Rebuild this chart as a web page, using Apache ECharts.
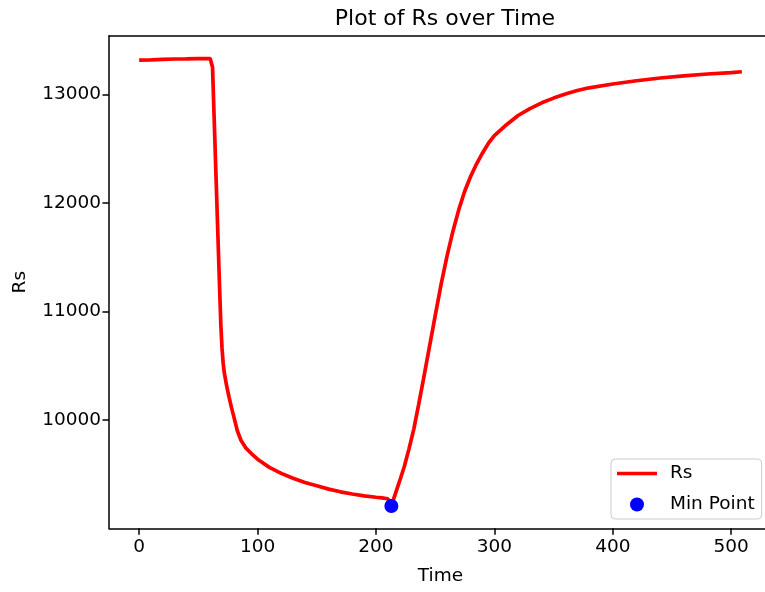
<!DOCTYPE html>
<html>
<head>
<meta charset="utf-8">
<script src="https://cdn.jsdelivr.net/npm/echarts@6/dist/echarts.min.js"></script>
<style>
html,body{margin:0;padding:0;background:#fff;overflow:hidden;}
#chart{width:800px;height:592px;}
</style>
</head>
<body>
<div id="chart"></div>
<script>
var times = [0,10,20,30,40,50,60,61,62,63,64,65,66,67,68,69,70,71,72,74,76,78,80,83,86,90,95,100,110,120,130,140,150,160,170,180,190,200,205,210,213,216,220,224,228,232,236,240,245,250,255,260,265,270,275,280,285,290,295,300,310,320,330,340,350,360,370,380,400,420,440,460,480,500,509];
var rsValues = [13315,13318,13322,13325,13326,13328,13330,13331,13250,12900,12560,12220,11880,11540,11200,10880,10660,10520,10430,10310,10210,10115,10030,9900,9815,9745,9690,9640,9565,9510,9465,9425,9395,9365,9340,9320,9303,9290,9284,9276,9210,9310,9440,9575,9740,9920,10140,10370,10665,10960,11250,11510,11740,11940,12110,12246,12360,12460,12550,12620,12718,12805,12868,12922,12965,13002,13035,13060,13095,13125,13150,13170,13187,13200,13208];
var minTime = [213];
var minValue = [9210];
var xTicks = [0,100,200,300,400,500];
var yTicks = [10000,11000,12000,13000];

var font = 'DejaVu Sans';
var chart = echarts.init(document.getElementById('chart'), null, {renderer:'canvas'});
var lineData = times.map(function(t,i){return [t, rsValues[i]];});
var minData = minTime.map(function(t,i){return [t, minValue[i]];});

chart.setOption({
  animation:false,
  backgroundColor:'#ffffff',
  title:{text:'Plot of Rs over Time', left:440, textAlign:'center', top:3,
    textStyle:{fontFamily:font, fontSize:22, fontWeight:'normal', color:'#000'}},
  grid:{left:109, top:36, width:663, height:492.3, show:false},
  legend:{
    orient:'vertical', left:611, top:459, padding:[5,7,5,6],
    itemWidth:40, itemHeight:14, itemGap:12,
    backgroundColor:'rgba(255,255,255,0.8)', borderColor:'#cccccc', borderWidth:1, borderRadius:4,
    textStyle:{fontFamily:font, fontSize:18.5, color:'#000', padding:[0,0,0,8]},
    data:[{name:'Rs', icon:'path://M0,0 L40,0 L40,3.7 L0,3.7 Z'}, {name:'Min Point', icon:'circle'}]
  },
  xAxis:[{
    type:'value', min:-25.45, max:534.45,
    name:'Time', nameLocation:'middle', nameGap:38,
    nameTextStyle:{fontFamily:font, fontSize:18.5, color:'#000'},
    axisLine:{show:true, onZero:false, lineStyle:{color:'#000', width:1.5}},
    axisTick:{show:true, length:6.5, lineStyle:{color:'#000', width:1.5}, customValues:xTicks},
    axisLabel:{fontFamily:font, fontSize:18.5, color:'#000', margin:9, customValues:xTicks, formatter:function(v){return String(v);}},
    splitLine:{show:false}
  },{
    type:'value', position:'top', min:-25.45, max:534.45,
    axisLine:{show:true, onZero:false, lineStyle:{color:'#000', width:1.5}},
    axisTick:{show:false}, axisLabel:{show:false}, splitLine:{show:false}
  }],
  yAxis:{
    type:'value', min:9004, max:13537,
    name:'Rs', nameLocation:'middle', nameGap:79,
    nameTextStyle:{fontFamily:font, fontSize:18.5, color:'#000'},
    axisLine:{show:true, onZero:false, lineStyle:{color:'#000', width:1.5}},
    axisTick:{show:true, length:6.5, lineStyle:{color:'#000', width:1.5}, customValues:yTicks},
    axisLabel:{fontFamily:font, fontSize:18.5, color:'#000', margin:8, customValues:yTicks, formatter:function(v){return String(v);}},
    splitLine:{show:false}
  },
  series:[
    {name:'Rs', type:'line', data:lineData, symbol:'none', smooth:false,
      lineStyle:{color:'#ff0000', width:3.7}, itemStyle:{color:'#ff0000'}, z:2},
    {name:'Min Point', type:'scatter', data:minData, symbol:'circle', symbolSize:14,
      itemStyle:{color:'#0000ff', opacity:1}, z:3}
  ]
});
</script>
</body>
</html>
